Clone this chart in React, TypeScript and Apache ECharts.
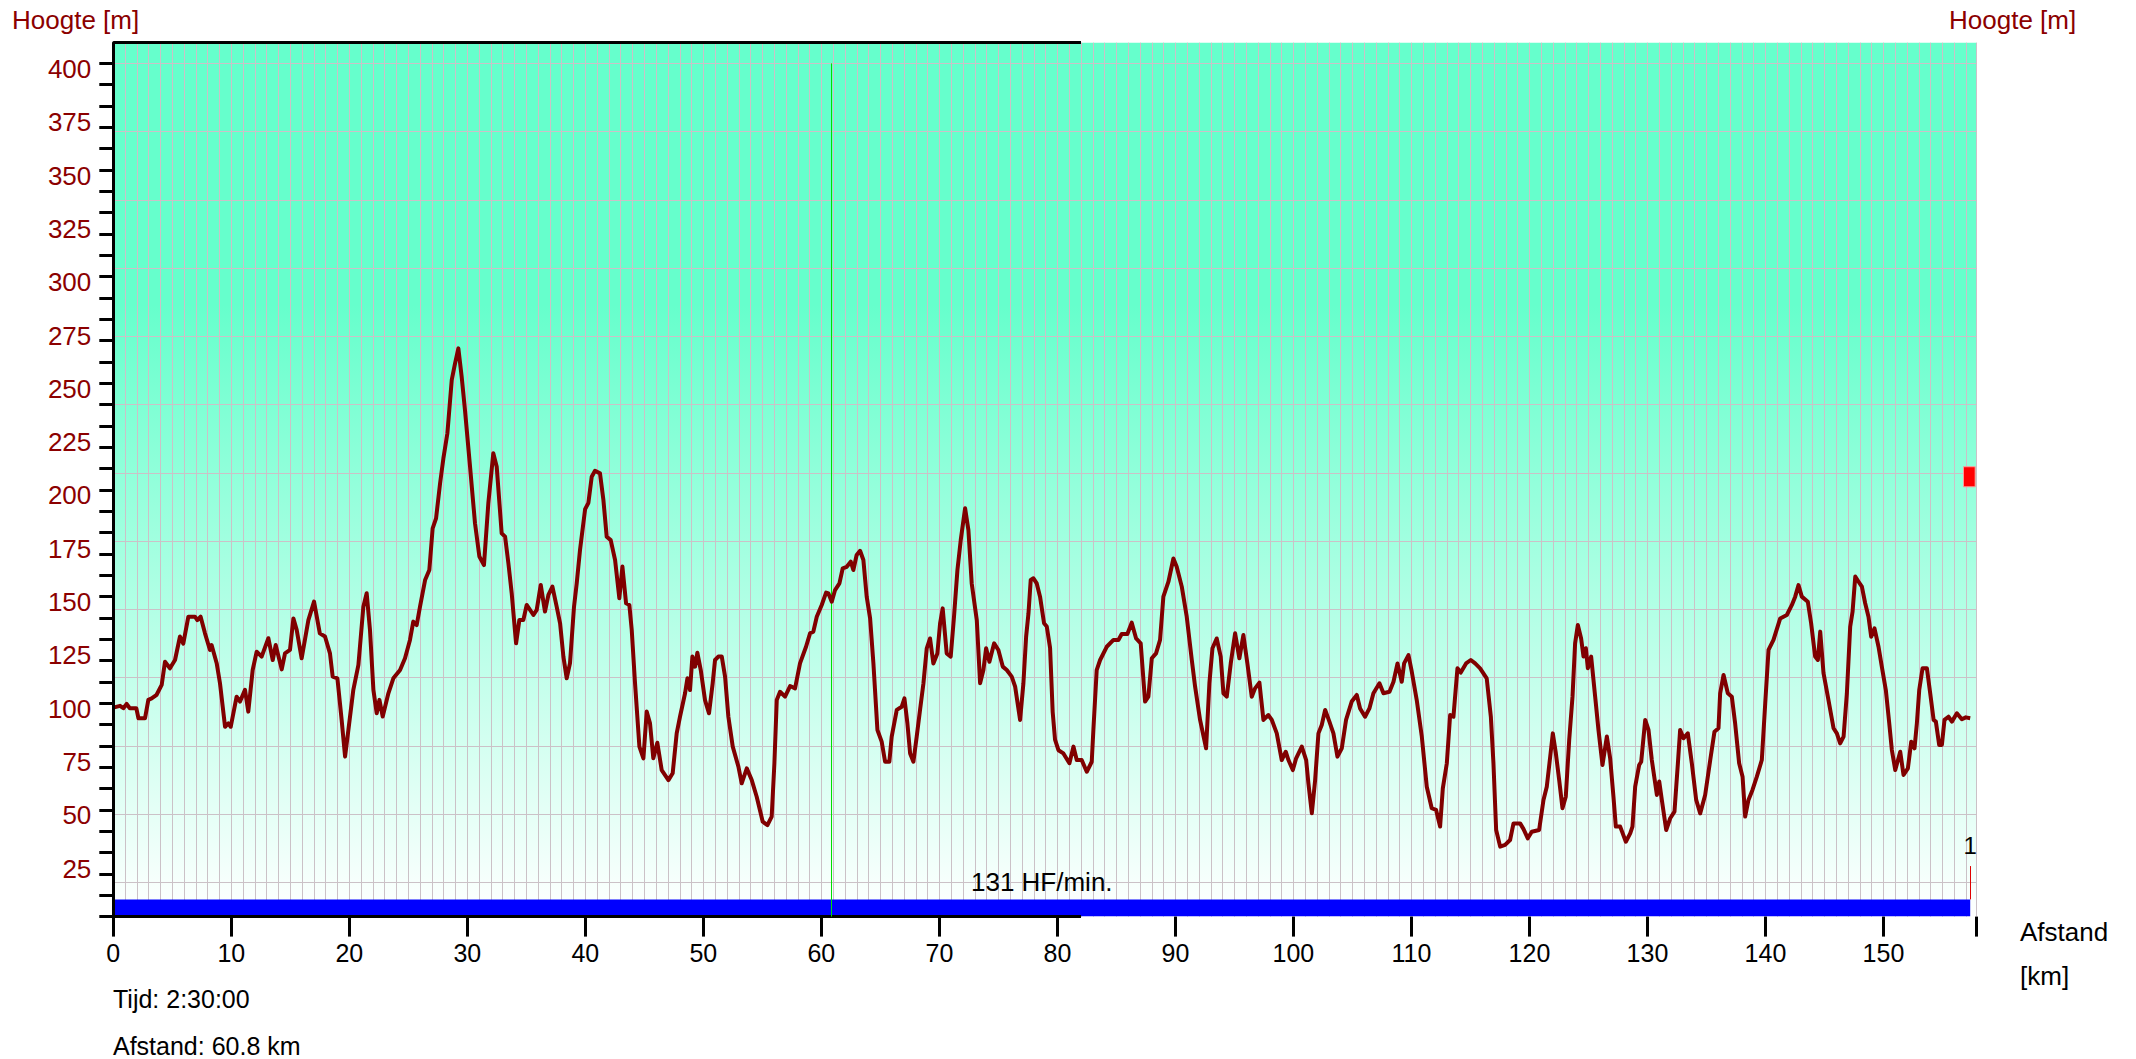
import React, { useEffect, useRef } from "react";
import * as echarts from "echarts";

// Elevation profile: [distance km, height m]
const elevation0to40: [number, number][] = [
  [0, 98], [0.57, 98.8], [0.85, 97.7], [1.13, 99.7], [1.4, 97.7], [1.95, 97.7], [2.13, 93], [2.69, 93],
  [2.97, 101.6], [3.25, 102.3], [3.67, 104], [4.1, 108.6], [4.38, 119.5], [4.8, 116.4], [5.23, 120.3],
  [5.65, 131.3], [5.93, 128], [6.36, 140.6], [6.92, 140.6], [7.12, 139], [7.4, 140.6], [7.77, 132.8],
  [8.19, 125], [8.33, 127.3], [8.76, 118.8], [9.04, 109.4], [9.47, 89], [9.75, 90.6], [9.95, 89],
  [10.45, 103.1], [10.74, 100.8], [11.16, 106.3], [11.44, 96.1], [11.81, 115.6], [12.15, 124.2],
  [12.57, 121.9], [13.14, 130.5], [13.51, 120.3], [13.76, 127.3], [14.27, 115.9], [14.55, 123.4],
  [14.97, 125], [15.26, 139.8], [15.54, 134.4], [15.96, 121.1], [16.53, 139], [17.01, 147.7],
  [17.5, 132.8], [17.94, 131.3], [18.36, 123.4], [18.59, 112.5], [18.99, 111.7], [19.35, 92.2],
  [19.64, 75], [19.92, 87.5], [20.34, 106.3], [20.77, 118], [21.19, 145.3], [21.47, 151.6],
  [21.75, 134.4], [22.04, 106.3], [22.32, 95.3], [22.55, 101.6], [22.83, 93.8], [23.31, 104.7],
  [23.73, 111.7], [24.3, 115.6], [24.72, 121.1], [25.14, 129.7], [25.42, 138.3], [25.71, 136.7],
  [25.99, 145.3], [26.42, 157.8], [26.78, 162.5], [27.06, 182], [27.35, 186.7], [27.69, 203.1],
  [27.97, 214.8], [28.31, 226.6], [28.68, 251.6], [28.96, 259.4], [29.24, 266.4], [29.52, 253.1],
  [29.8, 237.5], [30.23, 210.9], [30.65, 184.4], [31.02, 168.8], [31.41, 164.8], [31.78, 193.8],
  [32.2, 217.2], [32.49, 210.9], [32.91, 179.7], [33.2, 178.1], [33.48, 165.6], [33.76, 151.6],
  [34.13, 128.1], [34.41, 139.1], [34.75, 139.1], [35.03, 146.1], [35.6, 141.4], [35.88, 143.8],
  [36.22, 155.5], [36.58, 143], [36.87, 150.8], [37.21, 154.7], [37.57, 145.3], [37.86, 137.5],
  [38.14, 121.9], [38.42, 111.7], [38.7, 118.8], [39.04, 145.3], [39.27, 156.3], [39.55, 172],
  [39.98, 191],
];

const elevation40to80: [number, number][] = [
  [40.26, 194], [40.54, 206.2], [40.82, 209], [41.24, 207.8], [41.53, 195.3], [41.81, 178.1],
  [42.15, 176.5], [42.52, 167.2], [42.88, 149.2], [43.14, 164.1], [43.45, 146.9], [43.73, 146.1],
  [43.93, 134.4], [44.21, 109.4], [44.58, 79.7], [44.92, 74.2], [45.2, 96.1], [45.48, 90.6],
  [45.76, 74.2], [46.1, 81.5], [46.47, 68.7], [47.04, 64], [47.4, 67.2], [47.74, 85.9], [48.02, 93.7],
  [48.45, 104.7], [48.65, 111.7], [48.87, 106.2], [49.07, 121.9], [49.3, 117.2], [49.49, 123.7],
  [49.78, 115.6], [50.14, 101.5], [50.48, 95.3], [50.79, 109.4], [50.99, 120.3], [51.27, 121.9],
  [51.56, 121.9], [51.84, 112.5], [52.12, 93.7], [52.49, 79.7], [52.97, 70.3], [53.25, 62.5],
  [53.68, 69.5], [54.1, 64], [54.52, 56.2], [55.03, 44.5], [55.43, 42.9], [55.79, 46.9], [56.02, 71.9],
  [56.22, 101.5], [56.5, 105.4], [56.92, 103.1], [57.35, 108.1], [57.77, 107], [58.19, 118.7],
  [58.7, 126.5], [59.04, 132.8], [59.32, 133.6], [59.61, 140.6], [60.03, 146.1], [60.4, 151.9],
  [60.6, 151.5], [60.88, 147.6], [61.16, 153.1], [61.53, 156.2], [61.81, 163.3], [62.15, 164],
  [62.49, 166.4], [62.71, 162.5], [62.99, 169.5], [63.28, 171.5], [63.56, 167.2], [63.84, 150],
  [64.13, 139.8], [64.41, 118.7], [64.75, 87.5], [65.11, 82], [65.4, 72.6], [65.76, 72.6],
  [65.96, 84.4], [66.39, 96.9], [66.81, 98.4], [67.04, 102.3], [67.29, 90.6], [67.52, 76.5],
  [67.8, 72.6], [68.08, 84.4], [68.36, 96.9], [68.65, 109.4], [68.93, 125.8], [69.21, 130.4],
  [69.49, 118.7], [69.83, 123.4], [70.06, 137.5], [70.28, 144.5], [70.62, 123.4], [70.96, 121.9],
  [71.24, 140.6], [71.53, 162.5], [71.81, 176.5], [72.18, 191.4], [72.46, 181.2], [72.74, 156.2],
  [73.17, 139], [73.45, 109.4], [73.73, 115.6], [73.96, 125.8], [74.24, 119.5], [74.64, 128.1],
  [75.0, 125], [75.37, 117.2], [75.71, 115.6], [76.13, 112.5], [76.42, 107.8], [76.84, 92.2],
  [77.12, 109.4], [77.35, 131.2], [77.55, 142.2], [77.74, 157.8], [77.97, 158.6], [78.25, 156.2],
  [78.53, 150], [78.87, 137.5], [79.1, 136], [79.38, 126], [79.6, 96], [79.8, 83],
];

const elevation80to120: [number, number][] = [
  [80.09, 78], [80.51, 76.5], [81.02, 71.9], [81.36, 79.7], [81.64, 73.4], [82.06, 73.4],
  [82.49, 67.9], [82.91, 72.6], [83.05, 87.5], [83.33, 115.6], [83.62, 120.3], [84.18, 126.5],
  [84.75, 129.7], [85.17, 129.7], [85.45, 132.5], [85.93, 132.5], [86.3, 137.8], [86.67, 130.4],
  [87.06, 128.1], [87.43, 100.8], [87.71, 103.1], [88.0, 121.1], [88.36, 123.4], [88.7, 129.7],
  [88.98, 150], [89.41, 157], [89.83, 167.9], [90.11, 164], [90.54, 154.7], [90.96, 140.6],
  [91.39, 120.3], [91.67, 107.8], [92.09, 92.2], [92.6, 78.9], [92.88, 109.4], [93.14, 125.8],
  [93.5, 130.4], [93.84, 121.9], [94.07, 104.7], [94.35, 103.1], [94.69, 118.7], [95.06, 132.8],
  [95.42, 121.1], [95.76, 132], [96.1, 118.7], [96.47, 103.1], [96.75, 107], [97.12, 109.7],
  [97.46, 92.2], [97.88, 94.5], [98.17, 92.2], [98.59, 85.9], [99.01, 73.4], [99.35, 77.3],
  [99.58, 73.4], [99.95, 68.7], [100.23, 74.2], [100.71, 79.7], [101.08, 73.4], [101.27, 62.5],
  [101.56, 48.4], [101.84, 64], [102.12, 85.9], [102.4, 89.8], [102.69, 96.9], [103.05, 91.4],
  [103.39, 85.9], [103.73, 75], [104.1, 78.9], [104.46, 92.2], [104.94, 100.8], [105.37, 103.9],
  [105.65, 97.6], [106.07, 93.7], [106.44, 97.6], [106.78, 104.7], [107.29, 109.4], [107.63, 104.7],
  [108.14, 105.4], [108.48, 110.1], [108.82, 118.7], [109.18, 110.1], [109.38, 118.7], [109.75, 122.6],
  [110.03, 114.8], [110.45, 101.5], [110.88, 84.4], [111.3, 60.9], [111.72, 50.8], [112.09, 50],
  [112.43, 42.2], [112.66, 60.1], [113.0, 71.9], [113.28, 94.5], [113.56, 93.7], [113.9, 116.4],
  [114.18, 114.4], [114.63, 118.7], [115.03, 120.3], [115.4, 118.7], [115.82, 116.4], [116.38, 111.7],
  [116.73, 93.7], [116.95, 71.9], [117.18, 40.6], [117.52, 32.8], [117.94, 33.6], [118.36, 35.9],
  [118.65, 43.7], [119.21, 43.7], [119.5, 41], [119.86, 36.7],
];

const elevation120to158: [number, number][] = [
  [120.2, 39.8], [120.82, 40.6], [121.19, 54.7], [121.47, 60.9], [121.76, 75], [121.98, 85.9],
  [122.24, 76.5], [122.52, 64], [122.8, 50.8], [123.08, 56.2], [123.37, 82.8], [123.65, 103.1],
  [123.87, 128.1], [124.1, 136.7], [124.38, 130.4], [124.58, 121.9], [124.78, 125.8], [124.95, 116.4],
  [125.23, 121.9], [125.57, 103.1], [125.85, 87.5], [126.19, 71.1], [126.56, 84.4], [126.84, 74.2],
  [127.12, 56.2], [127.32, 42.2], [127.69, 42.2], [128.17, 35.1], [128.54, 39], [128.73, 42.2],
  [128.96, 60.9], [129.3, 71.1], [129.47, 72.6], [129.81, 92.2], [130.09, 87.5], [130.37, 73.4],
  [130.8, 57], [131.0, 63.3], [131.22, 54.7], [131.59, 40.6], [131.93, 46.1], [132.29, 49.2],
  [132.58, 71.9], [132.77, 87.5], [133.06, 83.6], [133.42, 85.9], [133.76, 71.9], [134.13, 54.7],
  [134.47, 48.4], [134.89, 57], [135.32, 73.4], [135.68, 86.7], [136.02, 88.3], [136.16, 104.7],
  [136.45, 113.3], [136.81, 104.7], [137.15, 103.1], [137.43, 90.6], [137.77, 71.9], [138.06, 65.6],
  [138.28, 46.9], [138.56, 54.7], [138.9, 59.4], [139.27, 65.6], [139.69, 73.4], [139.98, 100],
  [140.26, 125], [140.68, 129.7], [141.25, 139.8], [141.81, 141.4], [142.24, 146.1], [142.52, 150],
  [142.8, 155.4], [143.08, 150], [143.59, 147.6], [143.87, 137.5], [144.21, 121.9], [144.44, 120.3],
  [144.64, 133.6], [144.92, 114.1], [145.34, 101.5], [145.77, 88.3], [146.05, 85.9], [146.33, 81.2],
  [146.62, 84.4], [146.9, 104.7], [147.18, 135.9], [147.38, 142.9], [147.61, 159.4], [147.89, 157],
  [148.17, 154.7], [148.45, 146.9], [148.73, 140.6], [148.96, 131.2], [149.24, 135.1], [149.58, 126.5],
  [149.86, 117.2], [150.2, 106.2], [150.49, 90.6], [150.71, 78.1], [151.0, 68.7], [151.42, 77.3],
  [151.7, 66.4], [152.07, 69.5], [152.35, 82], [152.63, 78.9], [152.83, 90.6], [153.03, 106.2],
  [153.31, 116.4], [153.68, 116.4], [153.96, 104.7], [154.25, 92.2], [154.44, 91.4], [154.72, 80.5],
  [154.95, 80.5], [155.17, 92.2], [155.51, 93.7], [155.8, 91.4], [156.22, 95.3], [156.64, 92.5],
  [156.98, 93.4], [157.35, 93],
];

// Axis ticks and labels
const xTickValues = [0, 10, 20, 30, 40, 50, 60, 70, 80, 90, 100, 110, 120, 130, 140, 150, 157.9];
const xLabelValues = [0, 10, 20, 30, 40, 50, 60, 70, 80, 90, 100, 110, 120, 130, 140, 150];
const yTickValues = [
  0, 10, 20, 30, 40, 50, 60, 70, 80, 90, 100, 110, 120, 130, 140, 150, 160, 170, 180, 190, 200,
  210, 220, 230, 240, 250, 260, 270, 280, 290, 300, 310, 320, 330, 340, 350, 360, 370, 380, 390, 400,
];
const yLabelValues = [25, 50, 75, 100, 125, 150, 175, 200, 225, 250, 275, 300, 325, 350, 375, 400];
const hGridValues = [16, 48, 80, 112, 144, 176, 208, 240, 272, 304, 336, 368, 400];

const X_MAX = 157.9;
const Y_MAX = 409.7;

// Heart-rate band, markers
const hrBand: [number, number][] = [[0, 8.06], [157.35, 8.06]];
const hrBandLabel = "131 HF/min.";
const cursorKm = 60.8;
const cursorTop = 400;
const lapKm = 157.35;
const lapRange = [8.06, 23.7];
const lapLabel = "1";
const borderEndKm = 82;
const heightMarker = [[156.78, 201.5], [157.77, 210.9]];

const FONT = '"Liberation Sans", Arial, sans-serif';
const GRID = "#cbc1c7";
const DARK_RED = "#8B0000";

export default function App() {
  const ref = useRef<HTMLDivElement>(null);

  useEffect(() => {
    if (!ref.current) return;
    const chart = echarts.init(ref.current, undefined, { renderer: "svg" });
    const elevation = [
      ...elevation0to40,
      ...elevation40to80,
      ...elevation80to120,
      ...elevation120to158,
    ];
    const option: any = {
      animation: false,
      backgroundColor: "#ffffff",
      grid: {
        left: 113.3,
        right: 159.3,
        top: 42.7,
        bottom: 142.4,
        show: true,
        borderWidth: 0,
        backgroundColor: new echarts.graphic.LinearGradient(0, 0, 0, 1, [
          { offset: 0, color: "#66FFCC" },
          { offset: 0.3, color: "#66FFCC" },
          { offset: 1, color: "#FFFFFF" },
        ]),
      },
      xAxis: [
        {
          type: "value",
          min: 0,
          max: X_MAX,
          interval: 10,
          z: 10,
          axisLine: { show: false },
          axisTick: {
            show: true,
            length: 20,
            customValues: xTickValues,
            lineStyle: { color: "#000", width: 3 },
          },
          axisLabel: {
            customValues: xLabelValues,
            fontSize: 25,
            color: "#000",
            fontFamily: FONT,
            margin: 24,
          },
          splitLine: { show: false },
        },
        {
          type: "value",
          min: 0,
          max: X_MAX,
          interval: 1,
          axisLine: { show: false },
          axisTick: { show: false },
          axisLabel: { show: false },
          splitLine: { show: true, lineStyle: { color: GRID, width: 1 } },
        },
      ],
      yAxis: [
        {
          type: "value",
          min: 0,
          max: Y_MAX,
          interval: 10,
          z: 10,
          axisLine: { show: true, lineStyle: { color: "#000", width: 3 } },
          axisTick: {
            show: true,
            length: 14,
            customValues: yTickValues,
            lineStyle: { color: "#000", width: 3 },
          },
          axisLabel: {
            customValues: yLabelValues,
            fontSize: 26,
            color: DARK_RED,
            fontFamily: FONT,
            margin: 22,
            verticalAlign: "top",
            lineHeight: 11,
          },
          splitLine: { show: false },
        },
      ],
      series: [
        {
          name: "HF",
          type: "line",
          z: 1,
          silent: true,
          data: hrBand,
          showSymbol: false,
          lineStyle: { width: 0, opacity: 0 },
          areaStyle: { color: "#0000FF", opacity: 1 },
          markArea: {
            silent: true,
            z: 1,
            data: [
              [
                {
                  coord: [hrBand[0][0], 0],
                  itemStyle: { color: "rgba(0,0,0,0)" },
                  label: {
                    show: true,
                    position: "top",
                    distance: 4,
                    formatter: hrBandLabel,
                    color: "#000",
                    fontSize: 26,
                    fontFamily: FONT,
                  },
                },
                { coord: [hrBand[1][0], hrBand[1][1]] },
              ],
            ],
          },
          markLine: {
            silent: true,
            z: 1,
            symbol: ["none", "none"],
            label: { show: false },
            data: hGridValues.map((v) => ({
              yAxis: v,
              lineStyle: { color: GRID, width: 1, type: "solid" },
            })),
          },
        },
        {
          name: "markers",
          type: "line",
          z: 3,
          silent: true,
          data: [],
          markArea: {
            silent: true,
            z: 6,
            data: [
              [
                {
                  coord: heightMarker[0],
                  itemStyle: { color: "#FF0000", borderColor: "#ff9a9a", borderWidth: 1 },
                  label: { show: false },
                },
                { coord: heightMarker[1] },
              ],
            ],
          },
          markLine: {
            silent: true,
            z: 4,
            symbol: ["none", "none"],
            label: { show: false },
            data: [
              [
                { coord: [0, Y_MAX], lineStyle: { color: "#000", width: 3, type: "solid" } },
                { coord: [borderEndKm, Y_MAX] },
              ],
              [
                { coord: [0, 0], lineStyle: { color: "#000", width: 3, type: "solid" } },
                { coord: [borderEndKm, 0] },
              ],
              [
                { coord: [cursorKm, cursorTop], lineStyle: { color: "#00E000", width: 1, type: "solid" } },
                { coord: [cursorKm, 0] },
              ],
              [
                {
                  coord: [lapKm, lapRange[0]],
                  lineStyle: { color: "#E00000", width: 1, type: "solid" },
                  label: {
                    show: true,
                    position: "end",
                    formatter: lapLabel,
                    color: "#000",
                    fontSize: 24,
                    fontFamily: FONT,
                    distance: 9,
                  },
                },
                { coord: [lapKm, lapRange[1]] },
              ],
            ],
          },
        },
        {
          name: "Hoogte",
          type: "line",
          z: 5,
          data: elevation,
          showSymbol: false,
          symbol: "none",
          lineStyle: { color: "#800000", width: 4, join: "round" },
        },
      ],
      graphic: [
        {
          type: "text",
          x: 12,
          y: 20,
          style: { text: "Hoogte [m]", font: `26px ${FONT}`, fill: DARK_RED, textAlign: "left", textVerticalAlign: "middle" },
        },
        {
          type: "text",
          x: 1949,
          y: 20,
          style: { text: "Hoogte [m]", font: `26px ${FONT}`, fill: DARK_RED, textAlign: "left", textVerticalAlign: "middle" },
        },
        {
          type: "text",
          x: 2020,
          y: 932,
          style: { text: "Afstand", font: `26px ${FONT}`, fill: "#000", textAlign: "left", textVerticalAlign: "middle" },
        },
        {
          type: "text",
          x: 2020,
          y: 976,
          style: { text: "[km]", font: `26px ${FONT}`, fill: "#000", textAlign: "left", textVerticalAlign: "middle" },
        },
        {
          type: "text",
          x: 113,
          y: 999,
          style: { text: "Tijd: 2:30:00", font: `25px ${FONT}`, fill: "#000", textAlign: "left", textVerticalAlign: "middle" },
        },
        {
          type: "text",
          x: 113,
          y: 1046,
          style: { text: "Afstand: 60.8 km", font: `25px ${FONT}`, fill: "#000", textAlign: "left", textVerticalAlign: "middle" },
        },
      ],
    };
    chart.setOption(option);
    return () => chart.dispose();
  }, []);

  return (
    <div
      ref={ref}
      style={{ position: "fixed", left: 0, top: 0, width: 2136, height: 1059, background: "#fff" }}
    />
  );
}
